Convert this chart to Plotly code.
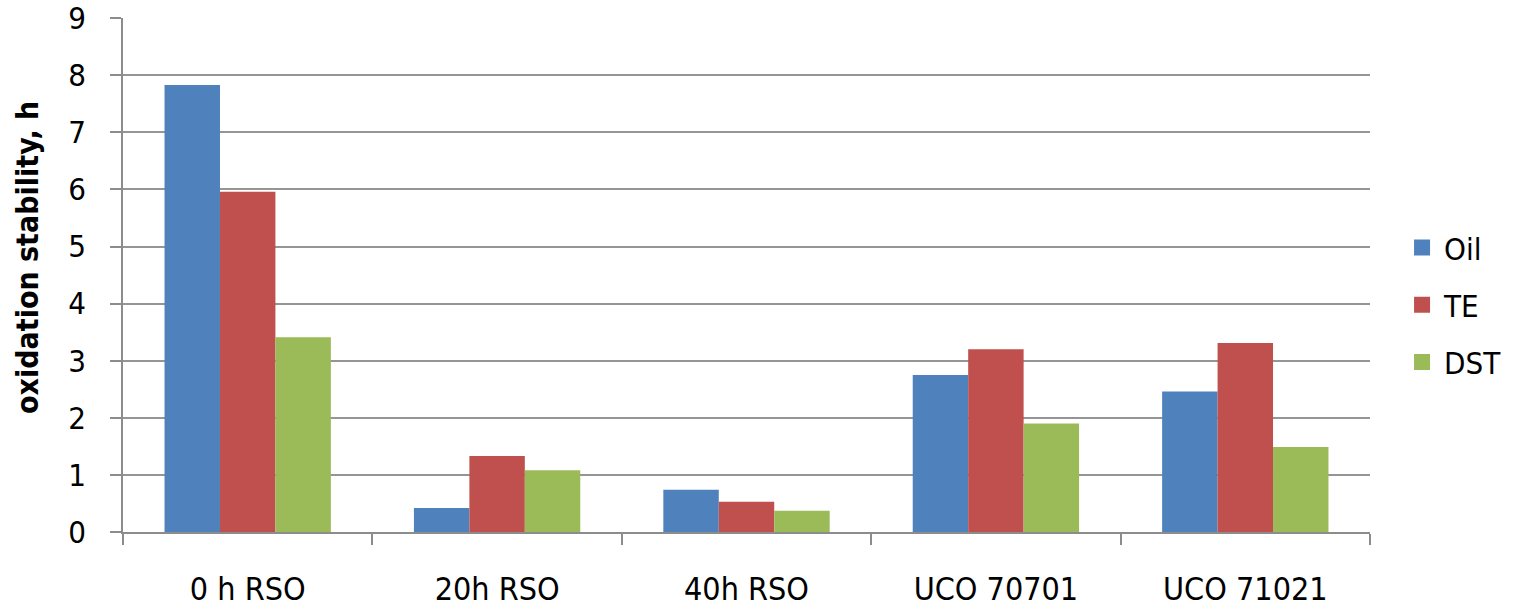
import plotly.graph_objects as go

categories = ["0 h RSO", "20h RSO", "40h RSO", "UCO 70701", "UCO 71021"]
oil = [7.83, 0.42, 0.74, 2.75, 2.46]
te = [5.96, 1.33, 0.53, 3.20, 3.31]
dst = [3.41, 1.08, 0.37, 1.90, 1.49]
y_ticks = [0, 1, 2, 3, 4, 5, 6, 7, 8, 9]

series = [("Oil", oil, "#4F81BD"), ("TE", te, "#C0504D"), ("DST", dst, "#9BBB59")]

narrow = "'DejaVu Sans Condensed', 'DejaVu Sans', sans-serif"
axis_grey = "#8c8c8c"

fig = go.Figure()
for name, vals, color in series:
    fig.add_trace(go.Bar(x=categories, y=vals, name=name, marker_color=color,
                         marker_line_width=0, showlegend=False))

# legend entries with larger square swatches
for name, vals, color in series:
    fig.add_trace(go.Scatter(x=[None], y=[None], mode="markers", name=name,
                             legendgroup=name,
                             marker=dict(symbol="square", size=21, color=color)))

fig.update_layout(
    width=1516, height=609,
    margin=dict(l=123, r=146, t=18, b=77, autoexpand=False),
    paper_bgcolor="white", plot_bgcolor="white",
    barmode="group", bargap=0.333, bargroupgap=0,
    font=dict(family=narrow, size=32, color="black"),
    legend=dict(x=1.0241, y=0.442, xanchor="left", yanchor="middle",
                font=dict(size=31), itemsizing="trace",
                tracegroupgap=14, itemwidth=34),
    showlegend=True,
)
fig.add_annotation(
    text="<b>oxidation stability, h</b>", textangle=-90,
    xref="paper", yref="paper", x=-0.077, y=0.535,
    xanchor="center", yanchor="middle", showarrow=False,
    font=dict(size=30, family=narrow),
)
fig.update_xaxes(
    automargin=False,
    showline=True, linecolor=axis_grey, linewidth=1.5,
    ticks="outside", ticklen=11, tickcolor=axis_grey, tickwidth=1.5,
    tickson="boundaries", showgrid=False,
    ticklabelstandoff=28,
    tickfont=dict(size=32),
)
fig.update_yaxes(
    automargin=False,
    range=[0, 9.002], tickvals=y_ticks,
    showline=True, linecolor=axis_grey, linewidth=1.5,
    ticks="outside", ticklen=11, tickcolor=axis_grey, tickwidth=1.5,
    showgrid=True, gridcolor="#959595", gridwidth=1.5,
    zeroline=False,
    tickfont=dict(size=31),
    ticklabelstandoff=18,
    ticklabeloverflow="allow",
)

fig.write_html("out.html")
